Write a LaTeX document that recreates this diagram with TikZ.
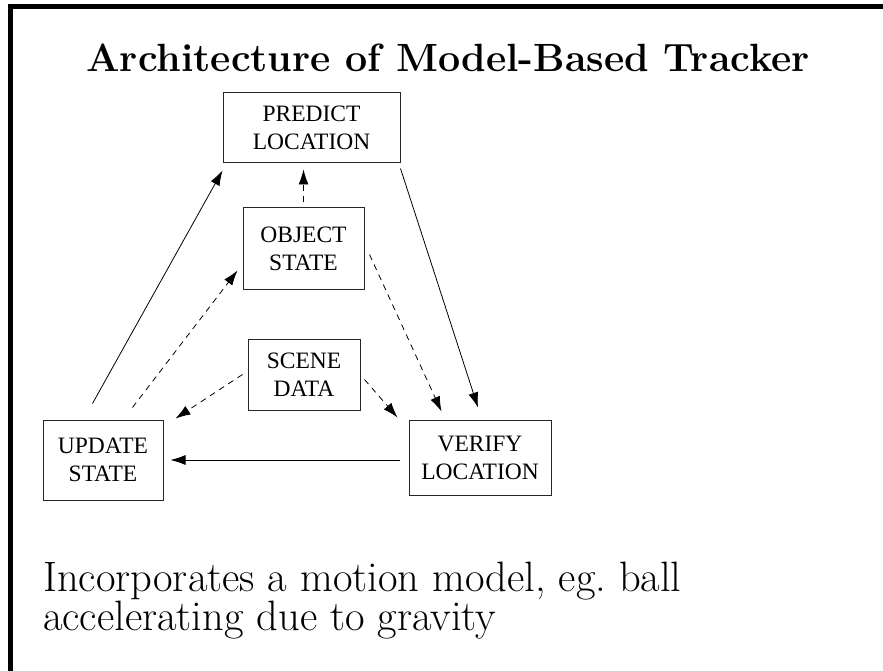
\documentclass[tikz,border=0pt]{standalone}
\usepackage{fontspec}
\newfontfamily\boxfont{Liberation Serif}
\usetikzlibrary{arrows.meta,calc}
\begin{document}
\begin{tikzpicture}[x=1pt,y=-1pt,
  box/.style={draw=black!85, line width=1pt, align=center, inner sep=0pt,
    font=\boxfont\fontsize{23.5}{28}\selectfont},
  conn/.style={line width=0.8pt, -{Latex[length=15pt,width=10pt]}},
  dconn/.style={conn, dash pattern=on 6pt off 5pt}]
\useasboundingbox (0,0) rectangle (883,671);
\fill[white] (0,0) rectangle (883,671);
% frame edges
\draw[line width=5pt] (10.5,671) -- (10.5,6.5) -- (883,6.5);
% title
\node[anchor=base, font=\bfseries\fontsize{39.4}{46}\selectfont] (title) at (448,72) {Architecture of Model-Based Tracker};
% boxes
\node[box, minimum width=177pt, minimum height=70pt] (predict) at (311.5,128) {PREDICT\\LOCATION};
\node[box, minimum width=121pt, minimum height=81pt] (object) at (303.5,248.5) {OBJECT\\STATE};
\node[box, minimum width=112pt, minimum height=71pt] (scene) at (304,374.5) {SCENE\\DATA};
\node[box, minimum width=120pt, minimum height=80pt] (update) at (103,460) {UPDATE\\STATE};
\node[box, minimum width=142pt, minimum height=75pt] (verify) at (480,457.5) {VERIFY\\LOCATION};
% connectors
\draw[conn] ($(update.north west)+(50,-16)$) -- ($(predict.south west)+(0,7)$);
\draw[dconn] ($(update.north west)+(90,-12)$) -- ($(object.south west)+(-5,-19)$);
\draw[dconn] ($(object.north)+(0,-5)$) -- ($(object.north|-predict.south)+(0,6)$);
\draw[conn] ($(predict.south east)+(0,5)$) -- ($(verify.north)+(-2,-12)$);
\draw[dconn] ($(object.east)+(5,6)$) -- ($(verify.north west)+(33,-8)$);
\draw[dconn] ($(scene.east)+(4,5)$) -- ($(verify.north west)+(-11,-2)$);
\draw[dconn] ($(scene.west)+(-5,0)$) -- ($(update.north east)+(12,-1)$);
\draw[conn] ($(verify.west|-update.east)+(-9,0)$) -- ($(update.east)+(7,0)$);
% bottom text
\node[anchor=base west, align=left, inner sep=0pt, font=\fontsize{42.5}{39}\selectfont] (body) at (43,630) {Incorporates a motion model, eg.\ ball\\accelerating due to gravity};
\end{tikzpicture}
\end{document}
